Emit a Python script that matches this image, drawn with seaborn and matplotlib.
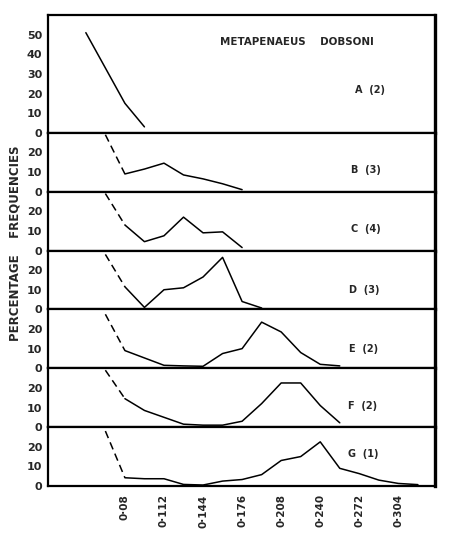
import matplotlib
matplotlib.use("Agg")
import matplotlib.pyplot as plt
import seaborn as sns
import pandas as pd

# body length classes (0.016 steps)
x_a = [0.048, 0.080, 0.096]
y_a = [51, 15, 3]

x_b = [0.080, 0.096, 0.112, 0.128, 0.144, 0.160, 0.176]
y_b = [9, 11.5, 14.5, 8.5, 6.5, 4, 1]

x_c = [0.080, 0.096, 0.112, 0.128, 0.144, 0.160, 0.176]
y_c = [13, 4.5, 7.5, 17, 9, 9.5, 1.5]

x_d = [0.080, 0.096, 0.112, 0.128, 0.144, 0.160, 0.176, 0.192]
y_d = [11.5, 1, 10, 11, 16.5, 26.5, 4, 0.7]

x_e = [0.080, 0.112, 0.128, 0.144, 0.160, 0.176, 0.192, 0.208, 0.224, 0.240, 0.256]
y_e = [9, 1.5, 1.2, 1, 7.5, 10, 23.5, 18.5, 8, 2, 1.2]

x_f = [0.080, 0.096, 0.112, 0.128, 0.144, 0.160, 0.176, 0.192, 0.208, 0.224, 0.240, 0.256]
y_f = [14.5, 8.5, 5, 1.5, 1, 1, 3, 12, 22.5, 22.5, 11, 2.2]

x_g = [0.080, 0.096, 0.112, 0.128, 0.144, 0.160, 0.176, 0.192, 0.208, 0.224,
       0.240, 0.256, 0.272, 0.288, 0.304, 0.320]
y_g = [4.2, 3.7, 3.7, 0.8, 0.5, 2.5, 3.3, 5.8, 13, 15, 22.5, 9, 6.3, 3, 1.3, 0.7]

# dashed lead-in (0.064 -> first solid point) for B..G
dash_top = [29, 29, 28, 27.5, 29, 28]

panel_names = ["A (2)", "B (3)", "C (4)", "D (3)", "E (2)", "F (2)", "G (1)"]
xticks = [0.080, 0.112, 0.144, 0.176, 0.208, 0.240, 0.272, 0.304]
xticklabels = ["0·08", "0·112", "0·144", "0·176", "0·208", "0·240", "0·272", "0·304"]

sns.set_style("white")
plt.rcParams["font.family"] = ["DejaVu Sans"]
plt.rcParams["font.weight"] = "bold"

series = [(x_a, y_a), (x_b, y_b), (x_c, y_c), (x_d, y_d), (x_e, y_e), (x_f, y_f), (x_g, y_g)]

fig = plt.figure(figsize=(4.5, 5.45), dpi=100)
gs = fig.add_gridspec(7, 1, height_ratios=[2, 1, 1, 1, 1, 1, 1], hspace=0,
                      left=48/450, right=435/450, top=1-15/545, bottom=1-486/545)
axes = [fig.add_subplot(gs[i]) for i in range(7)]

for i, ax in enumerate(axes):
    xs, ys = series[i]
    df = pd.DataFrame({"x": xs, "y": ys})
    sns.lineplot(data=df, x="x", y="y", ax=ax, color="black", lw=1.1)
    if i > 0:
        dd = pd.DataFrame({"x": [0.064, xs[0]], "y": [dash_top[i-1], ys[0]]})
        sns.lineplot(data=dd, x="x", y="y", ax=ax, color="black", lw=1.1,
                     linestyle=(0, (5, 3)))
    ax.set_xlim(0.017, 0.334)
    if i == 0:
        ax.set_ylim(0, 60)
        ax.set_yticks([0, 10, 20, 30, 40, 50])
    else:
        ax.set_ylim(0, 30)
        ax.set_yticks([0, 10, 20])
    ax.set_xlabel("")
    ax.set_ylabel("")
    for s in ax.spines.values():
        s.set_linewidth(1.6)
        s.set_color("black")
    ax.spines["right"].set_linewidth(2.4)
    ax.tick_params(axis="y", direction="out", length=3, width=1, labelsize=8, pad=1)
    if i < 6:
        ax.set_xticks([])
    else:
        ax.set_xticks(xticks)
        ax.set_xticklabels(xticklabels, rotation=90)
        ax.tick_params(axis="x", direction="out", length=4, width=1.2, labelsize=7.5, pad=2)
    ax.set_facecolor("white")

fig.text(297/450, 1-42/545, "METAPENAEUS    DOBSONI", ha="center", va="center", fontsize=7.4, fontweight="bold")
label_pos = [(370, 90), (366, 170), (366, 229), (364, 290), (364, 349), (363, 406), (363, 454)]
for (px, py), name in zip(label_pos, panel_names):
    fig.text(px/450, 1-py/545, name.replace(" ", "  "), ha="center", va="center", fontsize=7, fontweight="bold")

fig.text(15/450, 1-243/545, "PERCENTAGE    FREQUENCIES", rotation=90, ha="center", va="center",
         fontsize=8.5, fontweight="bold")

fig.savefig("out.png", dpi=100, facecolor="white")
